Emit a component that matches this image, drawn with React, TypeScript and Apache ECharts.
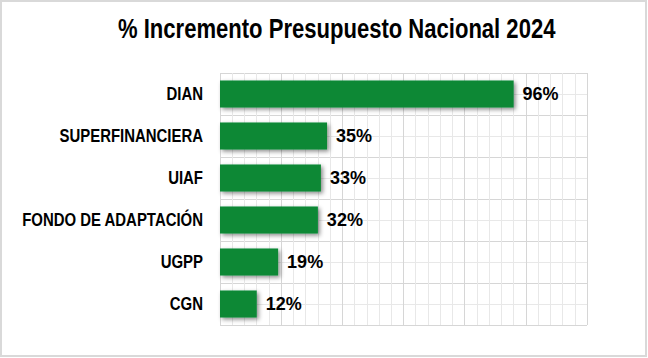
import React, { useEffect, useRef } from "react";
import * as echarts from "echarts";

const categories = ["DIAN", "SUPERFINANCIERA", "UIAF", "FONDO DE ADAPTACIÓN", "UGPP", "CGN"];
const values = [96, 35, 33, 32, 19, 12];
const titleText = "% Incremento Presupuesto Nacional 2024";

const FONT = "'Liberation Sans', Arial, sans-serif";

function measure(text: string, font: string): number {
  const c = document.createElement("canvas");
  const ctx = c.getContext("2d");
  if (!ctx) return text.length * 12;
  ctx.font = font;
  return ctx.measureText(text).width;
}

export default function App() {
  const ref = useRef<HTMLDivElement>(null);
  useEffect(() => {
    if (!ref.current) return;
    const chart = echarts.init(ref.current, null, { renderer: "svg" });
    const titleW = measure(titleText, "bold 28px 'Liberation Sans'");
    const titleScale = 438 / titleW;
    chart.setOption({
      animation: false,
      backgroundColor: "#ffffff",
      graphic: [
        {
          type: "rect",
          shape: { x: 1, y: 1, width: 645, height: 355 },
          style: { fill: "none", stroke: "#d9d9d9", lineWidth: 2 },
          silent: true,
          z: 100,
        },
        {
          type: "text",
          x: 118,
          y: 28,
          scaleX: titleScale,
          style: {
            text: titleText,
            fontFamily: FONT,
            fontWeight: "bold",
            fontSize: 28,
            fill: "#000",
            align: "left",
            verticalAlign: "middle",
          },
        },
      ],
      grid: { left: 220, right: 61, top: 73, bottom: 33 },
      xAxis: {
        type: "value",
        min: 0,
        max: 120,
        interval: 20,
        axisLabel: { show: false },
        axisLine: { show: false },
        axisTick: { show: false },
        splitLine: { show: true, lineStyle: { color: "#d6d6d6", width: 1 } },
        minorTick: { show: false, splitNumber: 5 },
        minorSplitLine: { show: true, lineStyle: { color: "#e8e8e8", width: 1 } },
      },
      yAxis: [
        {
          type: "category",
          inverse: true,
          data: categories,
          axisLine: { show: false },
          axisTick: { show: false },
          axisLabel: { show: false },
          splitLine: { show: true, lineStyle: { color: "#d6d6d6", width: 1 } },
        },
        {
          type: "value",
          min: 0,
          max: 6,
          interval: 1,
          position: "right",
          axisLabel: { show: false },
          axisLine: { show: false },
          axisTick: { show: false },
          splitLine: { show: false },
          minorTick: { show: false, splitNumber: 2 },
          minorSplitLine: { show: true, lineStyle: { color: "#e8e8e8", width: 1 } },
        },
      ],
      series: [
        {
          type: "bar",
          data: values,
          yAxisIndex: 0,
          barWidth: 27,
          itemStyle: {
            color: "#088834",
            shadowColor: "rgba(0,0,0,0.45)",
            shadowBlur: 4,
            shadowOffsetX: 2,
            shadowOffsetY: 2,
          },
          label: {
            show: true,
            position: "right",
            distance: 9,
            formatter: "{c}%",
            fontFamily: FONT,
            fontWeight: "bold",
            fontSize: 18,
            color: "#000",
          },
          z: 3,
        },
        {
          type: "custom",
          yAxisIndex: 0,
          clip: false,
          silent: true,
          data: categories.map((_, i) => [0, i]),
          renderItem: (params: any, api: any) => {
            const idx = api.value(1);
            const p = api.coord([0, idx]);
            return {
              type: "text",
              x: p[0] - 17,
              y: p[1],
              scaleX: 0.83,
              style: {
                text: categories[idx],
                fontFamily: FONT,
                fontWeight: "bold",
                fontSize: 18,
                fill: "#000",
                align: "right",
                verticalAlign: "middle",
              },
            };
          },
          z: 4,
        },
      ],
    });
    return () => chart.dispose();
  }, []);
  return (
    <div
      ref={ref}
      style={{ position: "absolute", left: 0, top: 0, width: 648, height: 358 }}
    />
  );
}
